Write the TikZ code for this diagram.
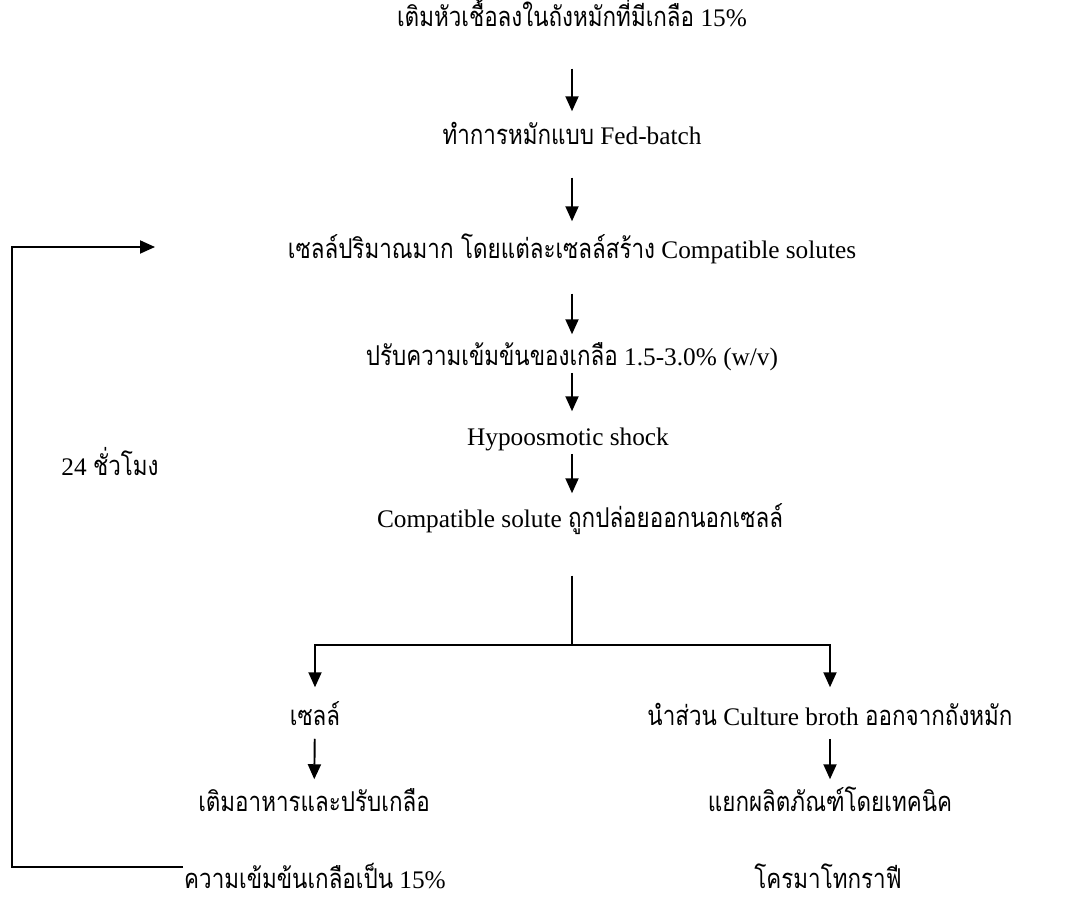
\documentclass[tikz,border=0pt]{standalone}
\usepackage{fontspec}
\setmainfont{Liberation Serif}
\newfontfamily\thai[Script=Thai,Scale=1.08,FakeStretch=0.82]{Loma}
\usetikzlibrary{arrows.meta}

\begin{document}
\begin{tikzpicture}
[
 x=0.02cm, y=-0.02cm,
 line width=1.1pt,
  >={Triangle[length=0.3cm,width=0.26cm]},
  stage/.style = {inner sep=0pt, text height=10pt, text depth=0pt, font=\fontsize{14.4}{17}\selectfont},
]
\useasboundingbox (0,0) rectangle (1071,905);

\node (Seed) at (572,18) [stage] {{\thai เติมหัวเชื้อลงในถังหมักที่มีเกลือ} 15\%};
\node (Fed) at (572,136) [stage] {{\thai ทำการหมักแบบ} Fed-batch};
\node (Mass) at (572,250) [stage] {{\thai เซลล์ปริมาณมาก โดยแต่ละเซลล์สร้าง} Compatible solutes};
\node (Salt) at (572,357) [stage] {{\thai ปรับความเข้มข้นของเกลือ} 1.5-3.0\% (w/v)};
\node (Shock) at (568,437) [stage] {Hypoosmotic shock};
\node (Out) at (580,519) [stage] {Compatible solute {\thai ถูกปล่อยออกนอกเซลล์}};
\node (Cell) at (315,717) [stage] {\thai เซลล์};
\node (Broth) at (830,717) [stage] {{\thai นำส่วน} Culture broth {\thai ออกจากถังหมัก}};
\node (Feed) at (314,803) [stage] {\thai เติมอาหารและปรับเกลือ};
\node (FeedB) at (315,880) [stage] {{\thai ความเข้มข้นเกลือเป็น} 15\%};
\node (Sep) at (830,803) [stage] {\thai แยกผลิตภัณฑ์โดยเทคนิค};
\node (SepB) at (828,880) [stage] {\thai โครมาโทกราฟี};
\node (Hrs) at (110,467) [stage] {24 {\thai ชั่วโมง}};

\coordinate (Split) at (572,645);
\coordinate (Rail) at (12,867);
\coordinate (Back) at (155,247);

\draw[->, shorten <=0.82cm, shorten >=0.3cm] (Seed) -- (Fed);
\draw[->, shorten <=0.64cm, shorten >=0.38cm] (Fed) -- (Mass);
\draw[->, shorten <=0.68cm, shorten >=0.26cm] (Mass) -- (Salt);
\draw[->, shorten <=0.12cm, shorten >=0.32cm] (Salt.south -| Fed) -- (Fed |- Shock.north);
\draw[->, shorten <=0.14cm, shorten >=0.32cm] (Shock.south -| Fed) -- (Fed |- Out.north);
\draw[shorten <=0.94cm] (Out.south -| Split) -- (Split);
\draw[->, shorten >=0.4cm] (Split) -| (Cell);
\draw[->, shorten >=0.4cm] (Split) -| (Broth);
\draw[->, shorten <=0.24cm, shorten >=0.28cm] (Cell) -- (Feed);
\draw[->, shorten <=0.24cm, shorten >=0.28cm] (Broth) -- (Sep);
\draw[->] (Rail -| FeedB.west) -- (Rail) |- (Back);

\end{tikzpicture}
\end{document}
